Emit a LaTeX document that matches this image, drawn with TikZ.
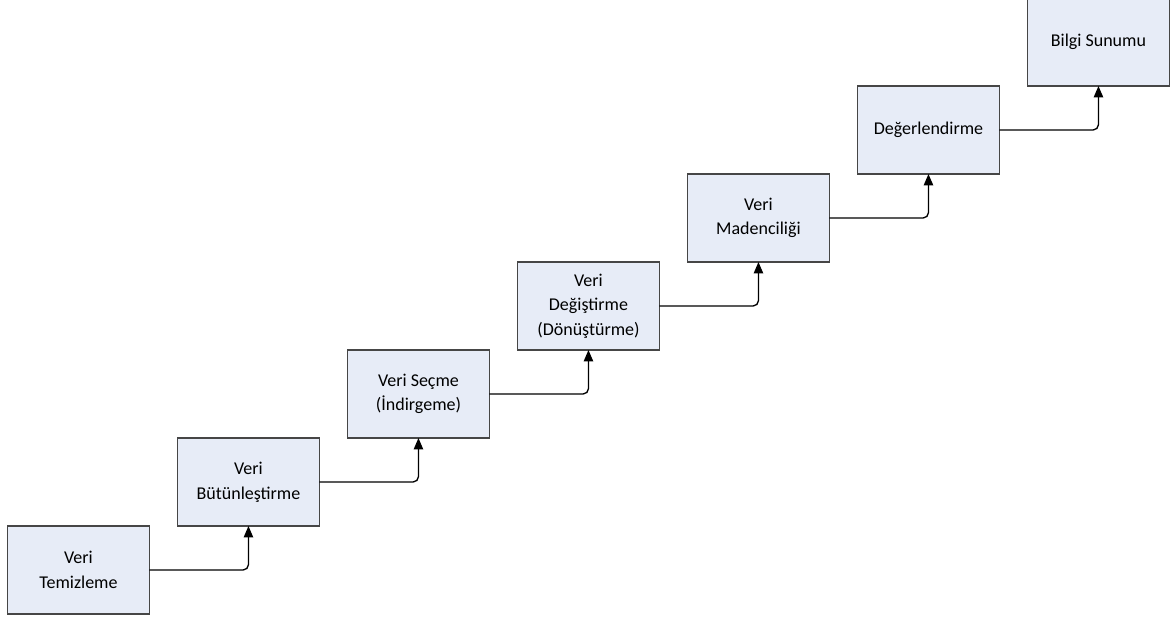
\documentclass[tikz,border=0pt]{standalone}
\usepackage{fontspec}
\setmainfont{Carlito}
\usepackage{tikz}
\usepackage{xcolor}
\usetikzlibrary{positioning,arrows.meta}
\definecolor{boxfill}{RGB}{231,236,247}
\definecolor{boxline}{RGB}{70,70,70}
\tikzset{
    step-box/.style = {draw=boxline, fill=boxfill, line width=1pt, rectangle, align=center, minimum width=106.5pt, minimum height=66pt, inner sep=2pt, outer sep=0pt, font=\fontsize{13.5}{18.5}\selectfont},
    flow-arrow/.style = {draw=black, line width=1pt, rounded corners=4pt, -{Triangle[length=8.5pt,width=7pt]}},
}

\begin{document}
\begin{tikzpicture}
\useasboundingbox (0,0) rectangle (881.25pt,464.25pt);
\node [step-box, anchor=south west] (temizleme) at (5.6pt,3.75pt) {Veri\\Temizleme};
\node [step-box, above right=0pt and 21pt of temizleme.north east, anchor=south west] (butunlestirme) {Veri\\Bütünleştirme};
\node [step-box, above right=0pt and 21pt of butunlestirme.north east, anchor=south west] (secme) {Veri Seçme\\(İndirgeme)};
\node [step-box, above right=0pt and 21pt of secme.north east, anchor=south west] (degistirme) {Veri\\Değiştirme\\(Dönüştürme)};
\node [step-box, above right=0pt and 21pt of degistirme.north east, anchor=south west] (madencilik) {Veri\\Madenciliği};
\node [step-box, above right=0pt and 21pt of madencilik.north east, anchor=south west] (degerlendirme) {Değerlendirme};
\node [step-box, above right=0pt and 21pt of degerlendirme.north east, anchor=south west] (sunum) {Bilgi Sunumu};

\draw [flow-arrow] (temizleme.east) -| (butunlestirme.south);
\draw [flow-arrow] (butunlestirme.east) -| (secme.south);
\draw [flow-arrow] (secme.east) -| (degistirme.south);
\draw [flow-arrow] (degistirme.east) -| (madencilik.south);
\draw [flow-arrow] (madencilik.east) -| (degerlendirme.south);
\draw [flow-arrow] (degerlendirme.east) -| (sunum.south);
\end{tikzpicture}
\end{document}
